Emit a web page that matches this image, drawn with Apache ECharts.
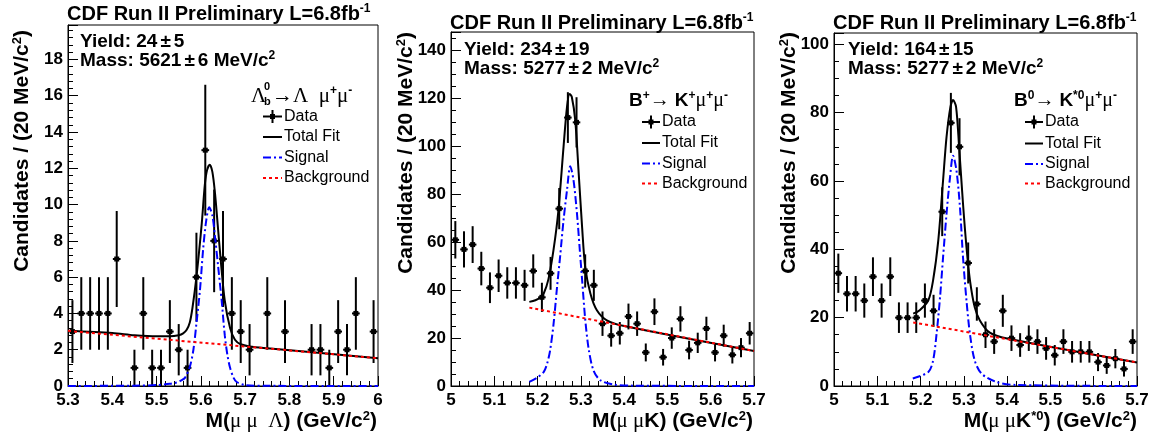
<!DOCTYPE html>
<html><head><meta charset="utf-8">
<script src="https://cdn.jsdelivr.net/npm/echarts@6/dist/echarts.min.js"></script>
<style>html,body{margin:0;padding:0;background:#fff}#c{width:1153px;height:440px}</style>
</head><body><div id="c"></div>
<script>
// ---------- data ----------
const binsLambda = [5.31,5.33,5.35,5.37,5.39,5.41,5.43,5.45,5.47,5.49,5.51,5.53,5.55,5.57,5.59,5.61,5.63,5.65,5.67,5.69,5.71,5.73,5.75,5.77,5.79,5.81,5.83,5.85,5.87,5.89,5.91,5.93,5.95,5.97,5.99];
const countsLambda = [3,4,4,4,4,7,0,1,4,1,1,3,2,1,6,13,8,7,4,3,2,0,4,0,3,0,0,2,2,1,3,2,4,0,3];
const binsB = [5.01,5.03,5.05,5.07,5.09,5.11,5.13,5.15,5.17,5.19,5.21,5.23,5.25,5.27,5.29,5.31,5.33,5.35,5.37,5.39,5.41,5.43,5.45,5.47,5.49,5.51,5.53,5.55,5.57,5.59,5.61,5.63,5.65,5.67,5.69];
const countsBplus = [61,57,59,49,41,46,43,43,42,48,37,47,74,112,110,48,42,26,21,22,29,26,14,31,12,20,28,15,18,24,14,21,13,16,22];
const countsB0 = [33,27,27,25,32,25,32,20,20,20,25,22,51,77,70,36,24,15,13,22,14,12,14,13,11,9,13,10,10,10,7,6,8,5,13];

// fit curves: [mass, candidates]
const totalLambda = [[5.30,3.04],[5.40,2.92],[5.45,2.80],[5.50,2.74],[5.53,2.74],[5.55,2.80],[5.56,2.90],[5.568,3.1],[5.575,3.5],[5.581,4.3],[5.590,6.0],[5.602,8.95],[5.609,11.1],[5.614,11.9],[5.620,12.2],[5.626,11.8],[5.632,10.6],[5.638,8.9],[5.645,6.9],[5.654,4.7],[5.666,3.2],[5.677,2.55],[5.69,2.3],[5.71,2.18],[5.75,2.08],[6.00,1.53]];
const signalLambda = [[5.30,0],[5.45,0.02],[5.50,0.05],[5.53,0.12],[5.545,0.19],[5.555,0.3],[5.564,0.45],[5.575,1.05],[5.583,1.97],[5.590,3.45],[5.598,5.29],[5.605,7.5],[5.612,9.1],[5.619,9.85],[5.626,9.4],[5.632,8.2],[5.639,6.6],[5.647,4.7],[5.654,2.8],[5.660,1.7],[5.666,1.0],[5.674,0.45],[5.681,0.22],[5.70,0.05],[5.75,0.01],[6.00,0]];
const bkgLambda = [[5.30,3.04],[6.00,1.53]];

const totalBplus = [[5.181,35.1],[5.195,35.8],[5.206,36.8],[5.214,38.5],[5.225,44.5],[5.237,57],[5.248,73],[5.260,99.8],[5.268,116.5],[5.274,121.8],[5.279,120.7],[5.287,110.9],[5.295,88.7],[5.303,66],[5.310,49.7],[5.322,38.6],[5.337,31.6],[5.360,27.4],[5.400,25.0],[5.70,14.6]];
const signalBplus = [[5.181,1.7],[5.200,3.6],[5.214,5.8],[5.222,9.3],[5.229,14.9],[5.237,26],[5.245,41.3],[5.252,53.9],[5.260,69.2],[5.268,81.7],[5.2755,91.7],[5.283,85.9],[5.291,72],[5.297,58],[5.303,44],[5.310,28],[5.318,15.5],[5.329,6.6],[5.345,2.4],[5.376,0.6],[5.42,0.15],[5.70,0]];
const bkgBplus = [[5.181,32.7],[5.70,14.6]];

const totalB0 = [[5.183,21.2],[5.198,22.2],[5.218,25.1],[5.229,31.0],[5.241,42.7],[5.252,60.2],[5.260,72.9],[5.269,81.7],[5.275,83.7],[5.282,81.7],[5.289,70],[5.298,53.4],[5.306,40.7],[5.314,31],[5.325,23.1],[5.337,19.2],[5.360,15.6],[5.400,13.9],[5.70,6.9]];
const signalB0 = [[5.182,2.2],[5.218,4.1],[5.229,7.5],[5.237,15.3],[5.245,26],[5.252,37.7],[5.260,50.4],[5.268,61],[5.275,67.4],[5.283,63],[5.291,52.3],[5.298,37.7],[5.306,25.1],[5.314,15.3],[5.325,7.5],[5.341,3.6],[5.375,1.2],[5.42,0.3],[5.70,0]];
const bkgB0 = [[5.183,18.6],[5.70,6.9]];

const xTicksLambda = {min:5.3, max:6.0, interval:0.1};
const xTicksB = {min:5.0, max:5.7, interval:0.1};
const yTicks = [{max:19.9, interval:2, minor:5},{max:147.7, interval:20, minor:4},{max:103.3, interval:20, minor:4}];

// ---------- drawing ----------
const SANS = '"Liberation Sans", Arial, sans-serif';
const SERIF = '"Liberation Serif", "DejaVu Serif", serif';
const HW = 0.0087; // half width of horizontal error bar (GeV)

function pts(bins, counts){
  const out=[];
  bins.forEach((x,i)=>{ if(counts[i]>0) out.push([x, counts[i], Math.sqrt(counts[i])]); });
  return out;
}
function renderErr(params, api){
  const x=api.value(0), y=api.value(1), e=api.value(2);
  const c=api.coord([x,y]), t=api.coord([x,y+e]), b=api.coord([x,Math.max(0,y-e)]);
  const l=api.coord([x-HW,y]), r=api.coord([x+HW,y]);
  return {type:'group', children:[
    {type:'line', shape:{x1:c[0],y1:t[1],x2:c[0],y2:b[1]}, style:{stroke:'#000',lineWidth:2}},
    {type:'line', shape:{x1:l[0],y1:c[1],x2:r[0],y2:c[1]}, style:{stroke:'#000',lineWidth:2}},
    {type:'rect', shape:{x:c[0]-2.5,y:c[1]-2.5,width:5,height:5}, style:{fill:'#000'}}
  ]};
}

const grids = [
  {left:68, top:25, width:310, height:361},
  {left:451, top:32, width:303, height:354},
  {left:834, top:33, width:303, height:353}
].map(g=>Object.assign({show:true, borderColor:'#000', borderWidth:1, containLabel:false}, g));

const fmtX = v => String(parseFloat((+v).toFixed(2)));
function xAxis(i, t){
  return {type:'value', gridIndex:i, min:t.min, max:t.max, interval:t.interval,
    axisLine:{show:true, lineStyle:{color:'#000', width:1}},
    axisTick:{show:true, inside:true, length:10, lineStyle:{color:'#000', width:1}},
    minorTick:{show:true, splitNumber:5, length:5, lineStyle:{color:'#000', width:1}},
    splitLine:{show:false},
    axisLabel:{color:'#000', fontSize:17, fontWeight:'bold', fontFamily:SANS, margin:6, formatter:fmtX}
  };
}
function yAxis(i, t){
  return {type:'value', gridIndex:i, min:0, max:t.max, interval:t.interval,
    axisLine:{show:true, lineStyle:{color:'#000', width:1}},
    axisTick:{show:true, inside:true, length:10, lineStyle:{color:'#000', width:1}},
    minorTick:{show:true, splitNumber:t.minor, length:5, lineStyle:{color:'#000', width:1}},
    splitLine:{show:false},
    axisLabel:{color:'#000', fontSize:17, fontWeight:'bold', fontFamily:SANS, margin:5, showMaxLabel:false,
      formatter: v => (Math.abs(v/t.interval - Math.round(v/t.interval))<1e-6) ? String(v) : ''}
  };
}

function panelSeries(i, bins, counts, total, signal, bkg){
  return [
    {type:'custom', xAxisIndex:i, yAxisIndex:i, data:pts(bins,counts), renderItem:renderErr, encode:{x:0,y:1}, z:2, silent:true},
    {type:'line', xAxisIndex:i, yAxisIndex:i, data:total, showSymbol:false, smooth:0.3, lineStyle:{color:'#000', width:2}, z:3, silent:true},
    {type:'line', xAxisIndex:i, yAxisIndex:i, data:signal, showSymbol:false, smooth:0.3, lineStyle:{color:'#0000ff', width:2, type:[8,3,2,3]}, z:4, silent:true},
    {type:'line', xAxisIndex:i, yAxisIndex:i, data:bkg, showSymbol:false, lineStyle:{color:'#ff0000', width:2, type:[3,3]}, z:5, silent:true}
  ];
}

const supS = {fontSize:12, fontWeight:'bold', fontFamily:SANS, verticalAlign:'top', lineHeight:22};
function txt(x, y, text, opts){
  opts = opts || {};
  return {type:'text', x:x, y:y, rotation:opts.rot||0, silent:true, z:100,
    style:Object.assign({text:text, fill:'#000', fontSize:opts.size||18, fontWeight:opts.weight||'bold', fontFamily:opts.family||SANS,
      align:opts.align||'left', textAlign:opts.align||'left', verticalAlign:'middle', textVerticalAlign:'middle',
      lineHeight:opts.lh||22,
      rich:Object.assign({
        sup:Object.assign({}, supS, opts.sup||{}),
        mu:{fontFamily:SERIF, fontSize:opts.muSize||20, fontWeight:'normal', lineHeight:opts.lh||22},
        b:{fontFamily:SANS, fontSize:opts.size||18, fontWeight:'bold', lineHeight:opts.lh||22},
        n:{fontFamily:SERIF, fontSize:opts.muSize||20, fontWeight:'normal', lineHeight:opts.lh||22},
        pm:{fontFamily:SANS, fontSize:opts.size||18, fontWeight:'bold', lineHeight:opts.lh||22, padding:[0,3,0,3]}
      }, opts.rich||{})
    }, opts.style||{})
  };
}
function line(x1,y1,x2,y2,color,dash){
  return {type:'line', silent:true, z:100, shape:{x1,y1,x2,y2}, style:{stroke:color, lineWidth:2, lineDash:dash||null}};
}
function legend(sx1, sx2, tx, ys){
  const cx=(sx1+sx2)/2;
  return [
    line(sx1,ys[0],sx2,ys[0],'#000'), line(cx,ys[0]-6.5,cx,ys[0]+6.5,'#000'),
    {type:'rect', silent:true, z:100, shape:{x:cx-2.5,y:ys[0]-2.5,width:5,height:5}, style:{fill:'#000'}},
    line(sx1,ys[1],sx2,ys[1],'#000'),
    line(sx1,ys[2],sx2,ys[2],'#0000ff',[8,3,2,3]),
    line(sx1,ys[3],sx2,ys[3],'#ff0000',[3,3]),
    txt(tx,ys[0],'Data',{size:16,weight:'normal'}),
    txt(tx,ys[1],'Total Fit',{size:16,weight:'normal'}),
    txt(tx,ys[2],'Signal',{size:16,weight:'normal'}),
    txt(tx,ys[3],'Background',{size:16,weight:'normal'})
  ];
}
const titleText = 'CDF Run II Preliminary L=6.8fb{sup|-1}';
const yTitle = 'Candidates / (20 MeV/c{sup|2})';
const graphics = [
  // panel 1
  txt(67, 14, titleText, {size:20}),
  txt(80, 42, 'Yield: 24{pm|±}5', {size:19}),
  txt(80, 61, 'Mass: 5621{pm|±}6 MeV/c{sup|2}', {size:19}),
  txt(22, 30, yTitle, {size:21, rot:Math.PI/2, align:'right', sup:{fontSize:13}}),
  txt(377, 421, '{b|M(}{mu|μ μ  Λ}{b|) (GeV/c}{sup|2}{b|)}', {size:21, align:'right', muSize:21, sup:{fontSize:13}}),
  txt(251, 96, '{n|Λ}', {muSize:21}),
  txt(264, 87, '0', {size:11}),
  txt(264, 102, 'b', {size:11}),
  txt(272, 96, '{n|→Λ  μ}{sup|+}{n|μ}{sup|-}', {muSize:21, sup:{fontSize:12}}),
  ...legend(263, 282, 284, [116.5, 137, 157.5, 178]),
  // panel 2
  txt(450, 23, titleText, {size:20}),
  txt(464, 50, 'Yield: 234{pm|±}19', {size:19}),
  txt(464, 69, 'Mass: 5277{pm|±}2 MeV/c{sup|2}', {size:19}),
  txt(406, 32, yTitle, {size:21, rot:Math.PI/2, align:'right', sup:{fontSize:13}}),
  txt(753, 421, '{b|M(}{mu|μ μ}{b|K) (GeV/c}{sup|2}{b|)}', {size:21, align:'right', muSize:21, sup:{fontSize:13}}),
  txt(629, 101, '{b|B}{sup|+}{n|→ }{b|K}{sup|+}{n|μ}{sup|+}{n|μ}{sup|-}', {size:19, muSize:20}),
  ...legend(642, 660, 662, [122, 143, 163.5, 183.5]),
  // panel 3
  txt(833, 23, titleText, {size:20}),
  txt(848, 50, 'Yield: 164{pm|±}15', {size:19}),
  txt(848, 69, 'Mass: 5277{pm|±}2 MeV/c{sup|2}', {size:19}),
  txt(789, 32, yTitle, {size:21, rot:Math.PI/2, align:'right', sup:{fontSize:13}}),
  txt(1137, 421, '{b|M(}{mu|μ μ}{b|K}{sup|*0}{b|) (GeV/c}{sup|2}{b|)}', {size:21, align:'right', muSize:21, sup:{fontSize:13}}),
  txt(1014, 101, '{b|B}{sup|0}{n|→ }{b|K}{sup|*0}{n|μ}{sup|+}{n|μ}{sup|-}', {size:19, muSize:20}),
  ...legend(1025, 1043, 1045, [122, 143.5, 164, 183.5])
];

const option = {
  animation:false,
  backgroundColor:'#fff',
  grid:grids,
  xAxis:[xAxis(0,xTicksLambda), xAxis(1,xTicksB), xAxis(2,xTicksB)],
  yAxis:[yAxis(0,yTicks[0]), yAxis(1,yTicks[1]), yAxis(2,yTicks[2])],
  series:[
    ...panelSeries(0, binsLambda, countsLambda, totalLambda, signalLambda, bkgLambda),
    ...panelSeries(1, binsB, countsBplus, totalBplus, signalBplus, bkgBplus),
    ...panelSeries(2, binsB, countsB0, totalB0, signalB0, bkgB0)
  ],
  graphic:graphics
};
const chart = echarts.init(document.getElementById('c'), null, {renderer:'canvas'});
chart.setOption(option);
</script></body></html>
